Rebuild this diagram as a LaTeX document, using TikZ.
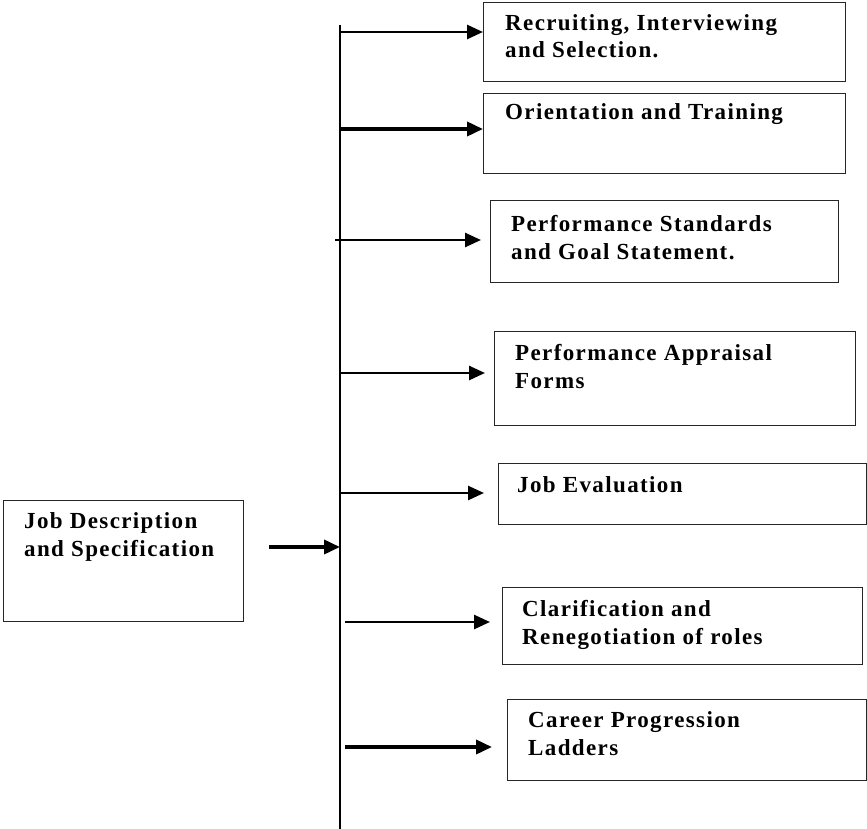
\documentclass[tikz,border=0pt]{standalone}
\usepackage{fontspec}
\setmainfont{Liberation Serif}
\usetikzlibrary{arrows.meta}
\begin{document}
\begin{tikzpicture}[x=1pt,y=-1pt,
  box/.style={draw=black!85, line width=1.3pt, inner sep=0pt, anchor=north west},
  % labels are placed at the baseline of their last line
  lbl/.style={anchor=base west, inner sep=0pt, align=left,
    font=\fontsize{23}{27.5}\selectfont\bfseries\addfontfeature{LetterSpace=6}},
  arr/.style={line width=2.6pt, -{Triangle[length=16pt,width=14pt]}},
  thickarr/.style={arr, line width=3.6pt},
  trunk/.style={line width=1.5pt}]
\useasboundingbox (0,0) rectangle (867,829);

% boxes
\node[box, minimum width=362, minimum height=79] (b1) at (483,2) {};
\node[box, minimum width=362, minimum height=80] (b2) at (483,93) {};
\node[box, minimum width=348, minimum height=82] (b3) at (490,200) {};
\node[box, minimum width=361, minimum height=94] (b4) at (494,331) {};
\node[box, minimum width=368, minimum height=61] (b5) at (498,463) {};
\node[box, minimum width=360, minimum height=77] (b6) at (502,587) {};
\node[box, minimum width=359, minimum height=81] (b7) at (507,699) {};
\node[box, minimum width=240, minimum height=121] (b0) at (3,500) {};

% labels
\node[lbl] (l1) at (505,58) {Recruiting, Interviewing\\and Selection.};
\node[lbl] (l2) at (505,120) {Orientation and Training};
\node[lbl] (l3) at (511,259) {Performance Standards\\and Goal Statement.};
\node[lbl] (l4) at (515,388) {Performance Appraisal\\Forms};
\node[lbl] (l5) at (517,492) {Job Evaluation};
\node[lbl] (l6) at (522,644) {Clarification and\\Renegotiation of roles};
\node[lbl] (l7) at (528,755) {Career Progression\\Ladders};
\node[lbl] (l0) at (24,556) {Job Description\\and Specification};

% trunk line and its branch points
\coordinate (top) at (340,25);
\coordinate (bot) at (340,829);
\draw[trunk] (top) -- (bot);
\coordinate (t1) at (340,32);
\coordinate (t2) at (340,129);
\coordinate (t3) at (335,240);
\coordinate (t4) at (340,373);
\coordinate (t5) at (340,493);
\coordinate (t6) at (345,622);
\coordinate (t7) at (345,747);
\coordinate (t0) at (340,547);

% branches
\draw[arr] (t1) -- (b1.west |- t1);
\draw[thickarr] (t2) -- (b2.west |- t2);
\draw[arr, shorten >=9pt] (t3) -- (b3.west |- t3);
\draw[arr, shorten >=9pt] (t4) -- (b4.west |- t4);
\draw[arr, shorten >=14pt] (t5) -- (b5.west |- t5);
\draw[arr, shorten >=12pt] (t6) -- (b6.west |- t6);
\draw[thickarr, shorten >=15pt] (t7) -- (b7.west |- t7);
\draw[thickarr, shorten <=25pt] (b0.east |- t0) -- (t0);
\end{tikzpicture}
\end{document}
